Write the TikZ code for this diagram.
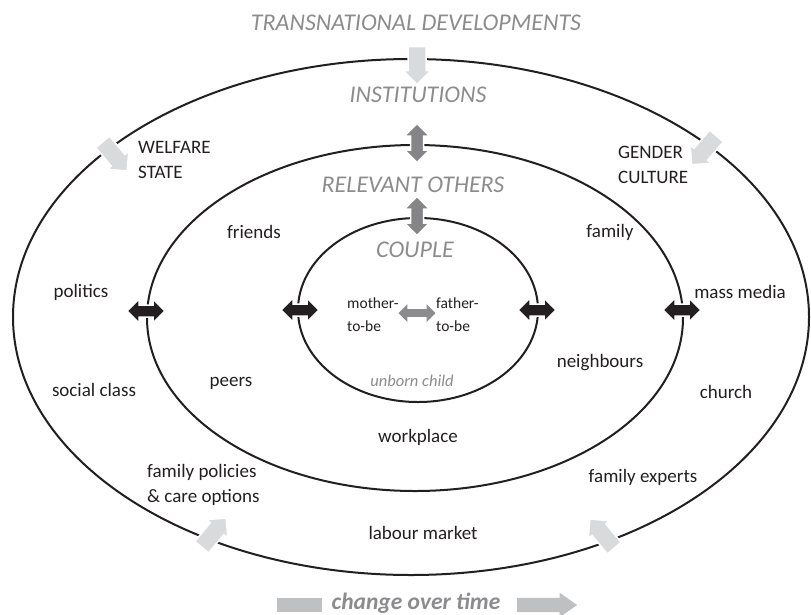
\documentclass[tikz,border=0pt]{standalone}
\usepackage{fontspec}
\setmainfont{Carlito}
\usetikzlibrary{shapes.arrows}
\definecolor{ink}{HTML}{231F20}
\definecolor{levelgray}{HTML}{8C8C8E}
\definecolor{palearrow}{HTML}{D9DADB}
\definecolor{midarrow}{HTML}{858587}
\definecolor{timebar}{HTML}{BFC0C2}
\begin{document}
\begin{tikzpicture}[x=1pt,y=-1pt,
  ring/.style={draw=ink, line width=2pt},
  label/.style={text=ink, font=\fontsize{19}{25}\selectfont, inner sep=0pt},
  twoline/.style={label, align=left, anchor=base west},
  smalltwo/.style={text=ink, font=\fontsize{15.5}{22.5}\selectfont, inner sep=0pt, align=left, anchor=base west},
  level/.style={text=levelgray, font=\fontsize{24}{28}\selectfont\itshape, inner sep=0pt},
  bidir/.style={double arrow, fill=ink, draw=white, line width=1.5pt,
    inner xsep=0pt, inner ysep=5.25pt, double arrow head extend=6pt,
    minimum height=38pt, minimum width=0pt},
  vbidir/.style={double arrow, fill=midarrow, draw=white, line width=1.5pt,
    inner xsep=0pt, inner ysep=5.75pt, double arrow head extend=6pt,
    minimum height=39pt, minimum width=0pt, rotate=90},
  pairarrow/.style={double arrow, fill=levelgray,
    inner xsep=0pt, inner ysep=3.75pt, double arrow head extend=5pt,
    minimum height=37pt, minimum width=0pt},
  inward/.style={single arrow, fill=palearrow, draw=white, line width=1.5pt,
    inner xsep=0pt, inner ysep=8.25pt, single arrow head extend=5pt,
    minimum height=38pt, minimum width=0pt},
]
\useasboundingbox (0,0) rectangle (811,614);
\clip (0,0) rectangle (811,614);

% the three rings
\path[ring] (411,317) ellipse [x radius=398pt, y radius=258pt];
\path[ring] (415,318) ellipse [x radius=268pt, y radius=173pt];
\path[ring] (418,310) ellipse [x radius=120pt, y radius=92pt];

% influences from outside
\node[inward, rotate=-90]  (inTop) at (417,61) {};
\node[inward, rotate=-50]  (inTL)  at (112,153) {};
\node[inward, rotate=-131] (inTR)  at (707,147) {};
\node[inward, rotate=50]   (inBL)  at (211,536) {};
\node[inward, rotate=130]  (inBR)  at (605,537) {};

% exchanges between the rings
\node[bidir] (exL1) at (146,311) {};
\node[bidir] (exR1) at (682,310) {};
\node[bidir] (exL2) at (300,310) {};
\node[bidir] (exR2) at (537,310) {};
\node[vbidir] (exT1) at (417,143) {};
\node[vbidir] (exT2) at (417,216) {};
\node[pairarrow] (pair) at (417,313) {};

% level titles
\node[level] (transn) at (416,23) {TRANSNATIONAL DEVELOPMENTS};
\node[level] (inst)   at (418,95) {INSTITUTIONS};
\node[level] (relev)  at (413,185) {RELEVANT OTHERS};
\node[level] (couple) at (415,250) {COUPLE};
\node[text=levelgray, font=\fontsize{16.5}{20}\selectfont\itshape, inner sep=0pt] (unborn) at (412,381) {unborn child};

% institutions
\node[twoline] (welfare) at (138,178) {WELFARE\\STATE};
\node[twoline] (gender)  at (618,183) {GENDER\\CULTURE};
\node[label] (politics) at (81,292) {politics};
\node[label] (media)    at (740,292) {mass media};
\node[label] (class)    at (94,390) {social class};
\node[label] (church)   at (726,392) {church};
\node[twoline] (policies) at (147,502) {family policies\\\& care options};
\node[label] (experts)  at (643,477) {family experts};
\node[label] (labour)   at (423,533) {labour market};

% relevant others
\node[label] (friends)  at (254,232) {friends};
\node[label] (family)   at (610,232) {family};
\node[label] (peers)    at (231,383) {peers};
\node[label] (neigh)    at (600,363) {neighbours};
\node[label] (work)     at (418,437) {workplace};

% the couple
\node[smalltwo] (mother) at (347,331) {mother-\\to-be};
\node[smalltwo] (father) at (436,331) {father-\\to-be};

% time axis
\node[rectangle, fill=timebar, minimum width=45pt, minimum height=14pt, inner sep=0pt] (timeL) at (299.5,605) {};
\node[text=levelgray, font=\fontsize{23.5}{26}\selectfont\bfseries\itshape, inner sep=0pt] (time) at (416,603) {change over time};
\node[single arrow, fill=timebar, inner xsep=0pt, inner ysep=7pt, single arrow head extend=5pt,
  single arrow tip angle=70, minimum height=60pt, minimum width=0pt] (timeR) at (542,605) {};
\end{tikzpicture}
\end{document}
